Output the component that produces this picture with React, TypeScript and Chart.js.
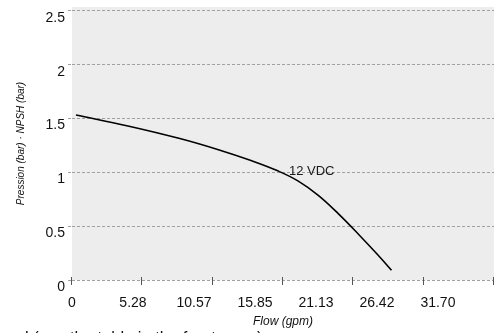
import React, { useEffect, useRef } from "react";
import { Chart, registerables } from "chart.js";

Chart.register(...registerables);

// ---- data ----
const flowGpm = [0.3, 4.2, 8.1, 11.0, 13.5, 15.5, 17.0, 18.5, 20.0, 21.5, 23.0, 24.0];
const pressureBar = [1.533, 1.432, 1.315, 1.211, 1.108, 1.012, 0.919, 0.787, 0.617, 0.428, 0.23, 0.09];
const xTickValues = [0, 5.28, 10.57, 15.85, 21.13, 26.42, 31.7];
const xTickLabels = ["0", "5.28", "10.57", "15.85", "21.13", "26.42", "31.70"];
const yTickValues = [0, 0.5, 1, 1.5, 2, 2.5];
const yTickLabels = ["0", "0.5", "1", "1.5", "2", "2.5"];
const curveLabel = "12 VDC";
const curveLabelX = 16.3;
const curveLabelY = 0.976;
const yTitle = "Pression (bar) · NPSH (bar)";
const xTitle = "Flow (gpm)";
const footnote = "head (see the table in the front page)";

const FONT = '"Liberation Sans", Arial, sans-serif';
const GRID = "#a0a0a0";

const bgPlugin = {
  id: "bgFill",
  beforeDraw(chart: any) {
    const { ctx, chartArea } = chart;
    ctx.save();
    ctx.fillStyle = "#ededed";
    ctx.fillRect(chartArea.left, chartArea.top, chartArea.right - chartArea.left, chartArea.bottom - chartArea.top);
    ctx.restore();
  },
};

const tickMarkPlugin = {
  id: "xTickMarks",
  afterDraw(chart: any) {
    const { ctx } = chart;
    const xs = chart.scales.x;
    const ys = chart.scales.y;
    const y0 = Math.round(ys.getPixelForValue(0));
    ctx.save();
    ctx.strokeStyle = "#555";
    ctx.lineWidth = 1;
    xTickValues.forEach((v) => {
      const px = Math.round(xs.getPixelForValue(v)) - 0.5;
      ctx.beginPath();
      ctx.moveTo(px, y0 - 3);
      ctx.lineTo(px, y0 + 5);
      ctx.stroke();
    });
    ctx.restore();
  },
};

const labelPlugin = {
  id: "curveLabel",
  afterDatasetsDraw(chart: any) {
    const { ctx } = chart;
    const px = chart.scales.x.getPixelForValue(curveLabelX);
    const py = chart.scales.y.getPixelForValue(curveLabelY);
    ctx.save();
    ctx.font = `13px ${FONT}`;
    ctx.fillStyle = "#1a1a1a";
    ctx.textAlign = "left";
    ctx.textBaseline = "alphabetic";
    ctx.fillText(curveLabel, px, py);
    ctx.restore();
  },
};

export default function App() {
  const ref = useRef<HTMLCanvasElement>(null);

  useEffect(() => {
    const chart = new Chart(ref.current!, {
      type: "line",
      data: {
        datasets: [
          {
            data: flowGpm.map((x, i) => ({ x, y: pressureBar[i] })),
            borderColor: "#000",
            borderWidth: 1.6,
            pointRadius: 0,
            tension: 0.4,
            fill: false,
            xAxisID: "x",
            yAxisID: "y",
          },
        ],
      },
      options: {
        responsive: false,
        animation: false,
        devicePixelRatio: 1,
        layout: { padding: { left: 0, right: 2, top: 7, bottom: 0 } },
        plugins: { legend: { display: false }, tooltip: { enabled: false } },
        scales: {
          x: {
            type: "linear",
            position: "bottom",
            min: 0,
            max: 31.7,
            grid: { display: false },
            border: { display: false },
            ticks: { display: false },
            afterBuildTicks: (s: any) => {
              s.ticks = xTickValues.map((v) => ({ value: v }));
            },
            afterFit: (s: any) => {
              s.height = 0;
              s.paddingLeft = 0;
              s.paddingRight = 0;
            },
          },
          xl: {
            type: "linear",
            position: "bottom",
            min: 0,
            max: 6.92,
            grid: { display: false },
            border: { display: false },
            afterBuildTicks: (s: any) => {
              s.ticks = xTickLabels.map((_, i) => ({ value: i }));
            },
            ticks: {
              autoSkip: false,
              maxRotation: 0,
              padding: 7,
              color: "#111",
              font: { family: FONT, size: 14 },
              callback: (_v: any, i: number) => xTickLabels[i],
            },
            title: {
              display: true,
              text: xTitle,
              color: "#111",
              font: { family: FONT, size: 12, style: "italic" },
              padding: { top: 0, bottom: 4 },
            },
            afterFit: (s: any) => {
              s.height = 53;
              s.paddingLeft = 0;
              s.paddingRight = 0;
            },
          },
          y: {
            type: "linear",
            min: 0,
            max: 2.537,
            afterBuildTicks: (s: any) => {
              s.ticks = yTickValues.map((v) => ({ value: v }));
            },
            grid: {
              color: GRID,
              lineWidth: 1,
              drawTicks: true,
              tickLength: 4,
              tickColor: GRID,
              tickBorderDash: [3, 2],
            },
            border: { display: false, dash: [3, 2] },
            ticks: {
              padding: 3,
              labelOffset: 7,
              color: "#111",
              font: { family: FONT, size: 14 },
              callback: (_v: any, i: number) => yTickLabels[i],
            },
            title: {
              display: true,
              text: yTitle,
              color: "#111",
              font: { family: FONT, size: 10, style: "italic" },
              padding: { top: 15, bottom: 0 },
            },
            afterFit: (s: any) => {
              s.width = 72;
              s.paddingTop = 0;
              s.paddingBottom = 0;
            },
          },
        },
      } as any,
      plugins: [bgPlugin, tickMarkPlugin, labelPlugin],
    });
    return () => chart.destroy();
  }, []);

  return (
    <div
      style={{
        position: "fixed",
        left: 0,
        top: 0,
        width: 496,
        height: 333,
        overflow: "hidden",
        background: "#fff",
      }}
    >
      <canvas ref={ref} width={496} height={333} style={{ display: "block", width: 496, height: 333 }} />
      <div
        style={{
          position: "absolute",
          left: -8,
          top: 328,
          font: `16.5px ${FONT}`,
          whiteSpace: "nowrap",
          color: "#111",
        }}
      >
        {footnote}
      </div>
    </div>
  );
}
